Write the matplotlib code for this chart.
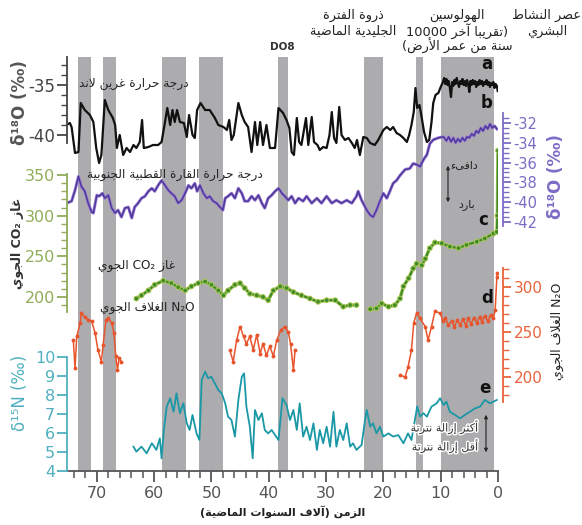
import numpy as np
import matplotlib
matplotlib.use("Agg")
import matplotlib.pyplot as plt
from matplotlib.ticker import MultipleLocator
import matplotlib.patheffects as pe

plt.rcParams['font.family'] = ['DejaVu Sans']
plt.rcParams['axes.unicode_minus'] = False

# ---------------- data (time in kyr before present) ----------------
# grey bands (Heinrich / cold events), start-end in kyr
band_start = [73.3, 68.9, 58.6, 52.2, 38.4, 23.4, 14.3, 9.9]
band_end = [71.0, 66.7, 54.5, 48.0, 36.6, 20.1, 13.1, 0.7]

# a: Greenland d18O (permil)
green_t = [75.3, 74.7, 74.4, 73.8, 73.2, 72.8, 72.1, 71.2, 70.6, 70.1,
           69.6, 69.2, 68.6, 68.0, 67.2, 66.8, 66.5, 66.0, 65.4, 64.8,
           64.2, 63.6, 63.1, 62.5, 62.1, 61.8, 61.0, 60.2, 59.3, 58.7,
           58.1, 57.7, 57.2, 56.8, 56.4, 56.0, 55.5, 54.8, 54.3, 53.9,
           53.3, 52.9, 52.5, 51.9, 51.1, 50.3, 49.4, 48.8, 47.9, 47.3,
           46.9, 46.5, 46.1, 45.3, 44.7, 44.2, 43.6, 43.0, 42.4, 42.0,
           41.5, 41.0, 40.4, 39.8, 38.9, 38.3, 37.5, 36.9, 36.4, 36.0,
           35.6, 35.1, 34.7, 34.3, 33.5, 33.1, 32.5, 32.1, 31.5, 31.1,
           30.5, 29.9, 29.4, 29.0, 28.6, 28.2, 27.7, 27.3, 26.7, 26.1,
           25.5, 25.0, 24.6, 24.1, 23.5, 22.9, 22.3, 21.5, 20.9, 20.0,
           19.4, 18.8, 18.3, 17.7, 17.1, 16.5, 15.9, 15.5, 15.1, 14.7,
           14.4, 14.1, 13.7, 13.3, 12.9, 12.4, 12.0, 11.6, 11.3, 10.9,
           10.4, 10.0, 9.6, 9.4, 9.2, 9.0, 8.8, 8.6, 8.4, 8.2,
           8.0, 7.8, 7.6, 7.4, 7.2, 7.0, 6.8, 6.6, 6.4, 6.2,
           6.0, 5.8, 5.6, 5.4, 5.2, 5.0, 4.8, 4.6, 4.4, 4.2,
           4.0, 3.8, 3.6, 3.4, 3.2, 3.0, 2.8, 2.6, 2.4, 2.2,
           2.0, 1.8, 1.6, 1.4, 1.2, 1.0, 0.8, 0.6, 0.4, 0.2,
           0.05]
green_v = [-39.0, -38.8, -39.2, -41.8, -41.7, -36.8, -37.5, -38.0, -38.7, -41.3,
           -42.8, -42.0, -36.5, -37.5, -38.3, -39.0, -41.3, -40.0, -42.0, -41.3,
           -41.7, -41.0, -41.3, -40.7, -38.5, -41.3, -41.2, -41.0, -41.0, -40.7,
           -38.7, -37.3, -39.0, -37.5, -38.7, -37.5, -38.7, -38.8, -40.2, -38.0,
           -40.0, -40.3, -37.5, -36.8, -37.5, -37.5, -38.3, -39.0, -39.2, -39.5,
           -38.5, -40.5, -40.0, -36.8, -38.0, -38.7, -39.2, -41.7, -38.7, -41.0,
           -38.7, -41.0, -39.0, -41.3, -41.3, -37.3, -37.8, -38.5, -39.3, -41.7,
           -42.0, -38.3, -40.7, -41.0, -38.3, -41.0, -38.2, -40.7, -41.0, -41.5,
           -41.2, -41.3, -40.0, -37.7, -40.3, -40.8, -37.2, -40.0, -40.5, -40.3,
           -40.8, -41.3, -40.5, -42.0, -40.2, -40.3, -40.8, -41.0, -40.5, -39.5,
           -39.2, -39.5, -39.2, -39.8, -40.0, -40.3, -40.7, -40.0, -39.0, -37.7,
           -35.3, -37.3, -37.0, -38.3, -39.7, -40.7, -40.5, -38.7, -36.8, -36.0,
           -35.8, -35.2, -34.7, -34.3, -34.9, -34.4, -35.0, -34.6, -35.3, -36.2,
           -34.7, -35.1, -34.5, -34.9, -34.3, -34.8, -35.2, -34.6, -34.9, -34.4,
           -35.0, -34.6, -35.1, -34.5, -34.9, -35.7, -34.6, -35.0, -34.5, -34.9,
           -34.6, -35.2, -34.7, -35.0, -34.5, -34.9, -34.6, -35.1, -34.7, -34.9,
           -34.5, -35.0, -34.7, -35.2, -34.8, -35.0, -34.7, -35.3, -34.9, -35.1,
           -35.6]

# b: Antarctic d18O (permil)
ant_t = [75.3, 74.4, 73.8, 73.2, 72.7, 72.1, 71.5, 70.9, 70.6, 70.0,
         69.6, 69.0, 68.6, 68.0, 67.4, 66.8, 66.3, 65.7, 65.1, 64.5,
         63.9, 63.4, 62.8, 62.2, 61.6, 61.0, 60.4, 59.9, 59.3, 58.7,
         58.1, 57.5, 57.0, 56.4, 55.8, 55.2, 54.6, 54.0, 53.5, 52.9,
         52.5, 52.0, 51.4, 50.8, 50.3, 49.7, 49.1, 48.5, 48.0, 47.6,
         47.1, 46.5, 45.9, 45.3, 44.7, 44.2, 43.6, 43.0, 42.4, 41.8,
         41.2, 40.7, 40.1, 39.5, 38.9, 38.3, 37.7, 37.2, 36.6, 36.0,
         35.4, 34.8, 34.0, 33.4, 32.5, 31.6, 30.8, 29.9, 29.0, 28.2,
         27.3, 26.4, 25.5, 24.7, 24.4, 23.8, 22.9, 22.3, 21.8, 21.2,
         20.6, 20.0, 19.4, 18.8, 18.3, 17.7, 17.1, 16.2, 15.4, 14.8,
         14.2, 13.6, 13.0, 12.4, 11.9, 11.3, 10.4, 9.5, 9.0, 8.6,
         8.2, 7.8, 7.4, 7.0, 6.6, 6.2, 5.8, 5.4, 5.0, 4.6,
         4.2, 3.8, 3.4, 3.0, 2.6, 2.2, 1.8, 1.4, 1.0, 0.6,
         0.2]
ant_v = [-40.1, -39.9, -38.8, -37.4, -38.4, -38.9, -40.1, -41.0, -41.1, -39.3,
         -39.4, -39.1, -39.6, -39.3, -40.6, -41.1, -40.8, -41.5, -40.6, -40.5,
         -41.6, -40.5, -40.1, -39.6, -39.4, -38.9, -38.6, -38.9, -38.3, -37.8,
         -38.3, -38.8, -39.1, -39.4, -40.1, -39.8, -39.1, -38.3, -38.6, -38.1,
         -38.9, -38.3, -39.1, -39.6, -39.4, -39.9, -40.1, -40.5, -40.8, -39.6,
         -39.4, -39.1, -39.6, -38.6, -39.1, -39.9, -39.9, -39.4, -39.8, -39.3,
         -40.1, -40.6, -39.6, -39.3, -38.9, -38.6, -39.1, -39.4, -39.8, -39.4,
         -40.1, -39.6, -39.9, -39.4, -40.1, -39.6, -40.1, -39.4, -40.1, -39.8,
         -40.1, -39.8, -40.1, -39.4, -38.9, -39.8, -40.8, -41.3, -41.5, -40.8,
         -39.9, -39.1, -39.6, -38.8, -38.1, -37.8, -37.3, -36.7, -36.6, -36.1,
         -36.2, -36.4, -35.7, -35.2, -34.1, -33.7, -33.5, -33.4, -33.8, -33.4,
         -33.9, -33.5, -34.0, -33.6, -33.9, -33.5, -33.8, -33.4, -33.5, -33.1,
         -33.3, -32.8, -33.0, -32.5, -32.8, -32.3, -32.6, -32.1, -32.5, -32.3,
         -32.6]

# c: atmospheric CO2 (ppm), gap between the two records
co2_t = [63.1, 62.2, 61.0, 59.9, 58.4, 57.0, 55.8, 54.6, 53.5, 52.3,
         51.1, 50.0, 48.8, 47.9, 47.1, 45.9, 45.0, 44.2, 43.3, 42.1,
         41.0, 40.1, 39.2, 38.0, 36.9, 35.7, 34.3, 32.8, 31.4, 29.9,
         28.4, 27.0, 25.8, 24.7, 23.5,
         22.3, 21.2, 20.3, 19.1, 18.0, 17.1, 16.5, 15.6, 14.8, 14.2,
         13.3, 12.7, 11.9, 11.0, 9.8, 8.4, 6.9, 5.5, 3.7, 2.3,
         0.8, 0.2, 0.1, 0.0]
co2_v = [198, 202, 208, 215, 220, 217, 212, 208, 213, 217,
         219, 215, 208, 202, 208, 215, 217, 211, 204, 202,
         200, 196, 208, 213, 211, 206, 202, 198, 194, 196,
         196, 188, 190, 190, np.nan,
         185, 186, 192, 188, 190, 198, 213, 223, 235, 241,
         239, 247, 260, 267, 266, 262, 260, 264, 268, 272,
         278, 280, 300, 380]

# d: atmospheric N2O (ppb), three records
n2o_t = [74.1, 73.8, 73.5, 72.9, 72.7, 72.1, 71.5, 70.9, 70.3, 69.8,
         69.2, 68.9, 68.4, 68.0, 67.4, 67.0, 66.7, 66.4, 66.1, 65.7,
         50.0,
         46.8, 46.2, 45.6, 45.0, 44.4, 43.9, 43.3, 42.7, 42.1, 41.5,
         41.0, 40.4, 39.8, 39.2, 38.6, 37.9, 37.2, 36.6, 36.2, 35.7,
         35.4,
         25.0,
         17.1, 16.2, 15.7, 15.1, 14.7, 14.2, 13.6, 12.7, 12.2, 11.6,
         11.0, 10.1, 9.6, 9.2, 8.7, 8.1, 7.6, 7.1, 6.6, 6.1,
         5.6, 5.2, 4.7, 4.2, 3.7, 3.2, 2.8, 2.3, 1.8, 1.3,
         0.8, 0.5, 0.2, 0.1]
n2o_v = [241, 210, 245, 260, 271, 267, 263, 262, 249, 230,
         217, 236, 263, 265, 260, 249, 223, 208, 221, 217,
         np.nan,
         230, 217, 241, 256, 245, 237, 245, 230, 247, 226,
         237, 224, 234, 223, 241, 252, 256, 250, 237, 208,
         230,
         np.nan,
         202, 200, 211, 230, 260, 271, 265, 256, 241, 256,
         273, 271, 262, 266, 258, 262, 256, 263, 258, 264,
         257, 265, 259, 266, 260, 267, 261, 268, 262, 269,
         266, 274, 311, 315]

# e: d15N (permil)
n15_t = [63.6, 63.1, 62.2, 61.3, 60.4, 59.6, 59.0, 58.7, 58.3, 57.8,
         57.2, 56.6, 56.1, 55.5, 54.9, 54.3, 53.8, 53.3, 52.6, 52.1,
         51.7, 51.1, 50.6, 50.0, 49.4, 48.8, 48.2, 47.6, 47.1, 46.5,
         45.9, 45.3, 44.7, 44.3, 43.9, 43.3, 42.8, 42.4, 41.8, 41.2,
         40.7, 40.1, 39.5, 38.9, 38.3, 37.6, 36.9, 36.3, 35.7, 35.1,
         34.6, 34.0, 33.4, 32.8, 32.2, 31.6, 31.1, 30.5, 29.9, 29.3,
         28.7, 28.2, 27.6, 27.0, 26.4, 25.8, 25.3, 24.7, 23.8, 23.2,
         22.9, 22.3, 21.8, 21.2, 20.6, 20.0, 19.1, 18.3, 17.4, 16.5,
         15.7, 15.1, 14.5, 14.1, 13.6, 13.0, 12.4, 11.6, 10.7, 10.1,
         9.5, 9.0, 8.4, 7.5, 6.6, 5.8, 4.9, 4.0, 3.1, 2.3,
         1.4, 0.2]
n15_v = [5.28, 5.02, 5.28, 4.93, 5.46, 5.11, 5.72, 4.67, 6.16, 7.39,
         7.83, 7.12, 8.09, 7.04, 7.56, 6.51, 6.16, 6.95, 5.98, 5.63,
         8.79, 9.23, 8.88, 8.96, 8.61, 8.26, 8.09, 7.56, 6.86, 6.68,
         5.81, 7.74, 8.96, 9.14, 7.39, 6.33, 4.67, 7.21, 6.68, 7.04,
         6.16, 5.98, 6.16, 5.89, 5.63, 7.83, 7.47, 6.68, 7.21, 6.16,
         7.56, 5.81, 6.33, 5.63, 6.51, 5.11, 6.16, 5.46, 6.33, 5.28,
         7.12, 5.28, 6.16, 5.63, 6.51, 5.28, 5.46, 5.11, 5.37, 6.68,
         7.21, 6.33, 6.51, 5.98, 6.33, 5.81, 5.98, 5.81, 5.89, 5.46,
         5.98, 5.63, 6.68, 7.39, 6.86, 7.04, 6.86, 7.39, 7.56, 7.83,
         7.47, 7.65, 7.12, 6.95, 6.77, 6.95, 7.12, 7.30, 7.39, 7.74,
         7.56, 7.74]

x_ticks = [70, 60, 50, 40, 30, 20, 10, 0]

# ---------------- minimal Arabic shaping (presentation forms + RTL order) ----
AR_FORMS = {
    'ء': (0xFE80, 1), 'آ': (0xFE81, 2), 'أ': (0xFE83, 2), 'ؤ': (0xFE85, 2),
    'إ': (0xFE87, 2), 'ئ': (0xFE89, 4), 'ا': (0xFE8D, 2), 'ب': (0xFE8F, 4),
    'ة': (0xFE93, 2), 'ت': (0xFE95, 4), 'ث': (0xFE99, 4), 'ج': (0xFE9D, 4),
    'ح': (0xFEA1, 4), 'خ': (0xFEA5, 4), 'د': (0xFEA9, 2), 'ذ': (0xFEAB, 2),
    'ر': (0xFEAD, 2), 'ز': (0xFEAF, 2), 'س': (0xFEB1, 4), 'ش': (0xFEB5, 4),
    'ص': (0xFEB9, 4), 'ض': (0xFEBD, 4), 'ط': (0xFEC1, 4), 'ظ': (0xFEC5, 4),
    'ع': (0xFEC9, 4), 'غ': (0xFECD, 4), 'ف': (0xFED1, 4), 'ق': (0xFED5, 4),
    'ك': (0xFED9, 4), 'ل': (0xFEDD, 4), 'م': (0xFEE1, 4), 'ن': (0xFEE5, 4),
    'ه': (0xFEE9, 4), 'و': (0xFEED, 2), 'ى': (0xFEEF, 2), 'ي': (0xFEF1, 4),
}
LAM_ALEF = {'آ': 0xFEF5, 'أ': 0xFEF7, 'إ': 0xFEF9, 'ا': 0xFEFB}


def _dual(c):
    return c in AR_FORMS and AR_FORMS[c][1] == 4


def _joins(c):
    return c in AR_FORMS and c != 'ء'


def shape(s):
    out, i, n = [], 0, len(s)
    while i < n:
        c = s[i]
        if c not in AR_FORMS:
            out.append(c)
            i += 1
            continue
        jp = i > 0 and _dual(s[i - 1])
        if c == 'ل' and i + 1 < n and s[i + 1] in LAM_ALEF:
            out.append(chr(LAM_ALEF[s[i + 1]] + (1 if jp else 0)))
            i += 2
            continue
        jn = _dual(c) and i + 1 < n and _joins(s[i + 1])
        base, nf = AR_FORMS[c]
        if jp and jn:
            f = 3
        elif jp and nf > 1:
            f = 1
        elif jn:
            f = 2
        else:
            f = 0
        out.append(chr(base + f))
        i += 1
    return ''.join(out)


def ar(s):
    t = shape(s)[::-1]
    out, run = [], []
    for c in t:
        if (c.isascii() and c.isalnum()) or c in '₂':
            run.append(c)
        else:
            out.extend(reversed(run))
            run = []
            out.append(c)
    out.extend(reversed(run))
    return ''.join(out).translate(str.maketrans('()', ')('))


# ---------------- figure ----------------
W, H = 582, 525
fig = plt.figure(figsize=(W / 100, H / 100), dpi=100)
L, R, T, B = 67, 498, 40, 471
rect = [L / W, 1 - B / H, (R - L) / W, (B - T) / H]
XLIM = (75.2, 0)


def px(x, y):
    return x / W, 1 - y / H


BAND = '#acacaf'
base = fig.add_axes(rect)
base.set_xlim(*XLIM)
base.set_ylim(0, 1)
for s in ['left', 'right', 'top']:
    base.spines[s].set_visible(False)
base.spines['bottom'].set_color('#555555')
base.spines['bottom'].set_linewidth(1.3)
base.set_yticks([])
base.set_xticks(x_ticks)
base.xaxis.set_minor_locator(MultipleLocator(2))
base.tick_params(axis='x', which='major', length=8, width=1.3, color='#555555',
                 labelsize=11.5, labelcolor='#555555', pad=3)
base.tick_params(axis='x', which='minor', length=5, width=1.1, color='#555555')
for t0, t1 in zip(band_start, band_end):
    base.axvspan(t1, t0, ymin=0, ymax=(B - 57) / (B - T), color=BAND, lw=0)


def panel(ylim, side, bounds, color, major, minor, size=12, tl=7):
    ax = fig.add_axes(rect)
    ax.patch.set_visible(False)
    ax.set_xlim(*XLIM)
    ax.set_ylim(*ylim)
    ax.set_xticks([])
    for s in ax.spines:
        ax.spines[s].set_visible(False)
    sp = ax.spines[side]
    sp.set_visible(True)
    sp.set_bounds(*bounds)
    sp.set_color(color)
    sp.set_linewidth(1.3)
    if side == 'right':
        sp.set_position(('axes', (503 - L) / (R - L)))
        ax.yaxis.tick_right()
    else:
        ax.yaxis.tick_left()
    ax.set_yticks(major)
    ax.set_yticks(minor, minor=True)
    ax.tick_params(axis='y', which='major', length=tl, width=1.3, color=color,
                   labelcolor=color, labelsize=size, pad=1.5)
    ax.tick_params(axis='y', which='minor', length=4, width=1.0, color=color)
    return ax


# a: Greenland (left axis)
ax_a = panel((-73.6, -30.5), 'left', (-40.8, -32.2), '#444444',
             [-35, -40], [-33, -34, -36, -37, -38, -39])
ax_a.plot(green_t, green_v, color='#111111', lw=1.6)

# b: Antarctica (right axis)
ax_b = panel((-67.15, -23.62), 'right', (-42.4, -31.0), '#7d6bc6',
             [-32, -34, -36, -38, -40, -42],
             [-31.5, -32.5, -33, -33.5, -34.5, -35, -35.5, -36.5, -37, -37.5,
              -38.5, -39, -39.5, -40.5, -41, -41.5, -42], size=10.5, tl=6)
ax_b.plot(ant_t, ant_v, color='#4b3a9e', lw=1.1,
          path_effects=[pe.withStroke(linewidth=2.2, foreground='#a27ccf')])

# c: CO2 (left axis)
ax_c = panel((-14.08, 516.05), 'left', (181, 351), '#8fad5a',
             [200, 250, 300, 350], list(range(190, 350, 10)), size=11.5)
ax_c.plot(co2_t, co2_v, color='#3d8a2a', lw=1.5, marker='o', ms=1.6,
          path_effects=[pe.withStroke(linewidth=2.6, foreground='#a9c653')])

# d: N2O (right axis)
ax_d = panel((95.56, 574.4), 'right', (172, 321), '#e8643c',
             [200, 250, 300], list(range(180, 321, 10)), size=11, tl=6)
ax_d.plot(n2o_t, n2o_v, color='#e8552d', lw=1.1, marker='o', ms=1.8)

# e: d15N (left axis)
ax_e = panel((4.0, 26.68), 'left', (4, 10), '#4fb0bf',
             [4, 5, 6, 7, 8, 9, 10], [], size=11.5)
for lab in ax_e.get_yticklabels():
    lab.set_clip_on(False)
ax_e.spines['left'].set_clip_on(False)
ax_e.plot(n15_t, n15_v, color='#1a98a6', lw=1.3)


# ---------------- texts ----------------
def ftext(x, y, s, **kw):
    kw.setdefault('ha', 'center')
    kw.setdefault('va', 'center')
    return fig.text(*px(x, y), s, **kw)


AR = dict(fontsize=8.7, color='#222222')
ftext(134, 83, ar('درجة حرارة غرين لاند'), **AR)
ftext(175, 175, ar('درجة حرارة القارة القطبية الجنوبية'), **AR)
ftext(137, 265, ar('غاز CO₂ الجوي'), **AR)
ftext(147, 307, ar('N₂O الغلاف الجوي'), **AR)

HD = dict(fontsize=9.3, color='#222222')
ftext(353, 15, ar('ذروة الفترة'), **HD)
ftext(353, 31, ar('الجليدية الماضية'), **HD)
ftext(457, 15, ar('الهولوسين'), **HD)
ftext(457, 31, ar('(تقريبا آخر 10000'), **HD)
ftext(457, 46, ar('سنة من عمر الأرض)'), **HD)
ftext(547, 15, ar('عصر النشاط'), **HD)
ftext(547, 31, ar('البشري'), **HD)

ftext(282, 47, 'DO8', fontsize=7.5, fontweight='bold', color='#333333')
for lt, (lx, ly) in zip('abcde', [(487, 64), (487, 103), (483, 220),
                                    (487, 298), (485, 388)]):
    ftext(lx, ly, lt, fontsize=12, fontweight='bold', color='#111111')

# warm / cold arrow
fig.add_artist(matplotlib.patches.FancyArrowPatch(
    px(448, 163), px(448, 205), transform=fig.transFigure,
    arrowstyle='<|-|>', mutation_scale=5, lw=0.8, color='#222222'))
ftext(464, 165, ar('دافىء'), fontsize=8, color='#222222')
ftext(467, 205, ar('بارد'), fontsize=8, color='#222222')

# denitrification arrow
fig.add_artist(matplotlib.patches.FancyArrowPatch(
    px(486, 412), px(486, 455), transform=fig.transFigure,
    arrowstyle='<|-|>', mutation_scale=5, lw=0.8, color='#222222'))
halo = [pe.withStroke(linewidth=2, foreground='white')]
ftext(478, 427, ar('أكثر إزالة نترتة'), ha='right', fontsize=8,
      color='#333333', path_effects=halo)
ftext(478, 446, ar('أقل إزالة نترتة'), ha='right', fontsize=8,
      color='#333333', path_effects=halo)

# axis titles
ftext(20, 103, 'δ¹⁸O (‰)', rotation=90, fontsize=12, fontweight='bold',
      color='#555555')
ftext(18, 243, ar('غاز CO₂ الجوي'), rotation=90, fontsize=9,
      fontweight='bold', color='#333333')
ftext(20, 393, 'δ¹⁵N (‰)', rotation=90, fontsize=12, color='#4fb0bf')
ftext(556, 177, 'δ¹⁸O (‰)', rotation=90, fontsize=12, fontweight='bold',
      color='#7d6bc6')
ftext(557, 331, ar('N₂O الغلاف الجوي'), rotation=90, fontsize=9,
      color='#222222')
ftext(283, 512, ar('الزمن (آلاف السنوات الماضية)'), fontsize=8,
      fontweight='bold', color='#222222')

fig.savefig('out.png', dpi=100)
